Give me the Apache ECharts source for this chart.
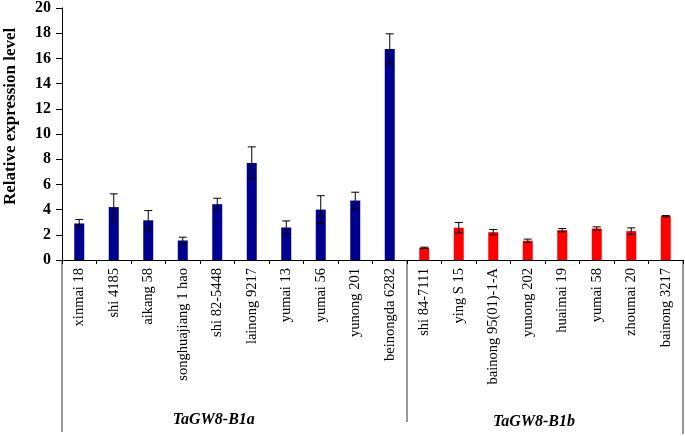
<!DOCTYPE html>
<html>
<head>
<meta charset="utf-8">
<script src="https://cdn.jsdelivr.net/npm/echarts@6/dist/echarts.min.js"></script>
<style>
html,body{margin:0;padding:0;background:#fff;}
#chart{width:685px;height:436px;}
</style>
</head>
<body>
<div id="chart"></div>
<script>
const categories = ["xinmai 18","shi 4185","aikang 58","songhuajiang 1 hao","shi 82-5448","lainong 9217","yumai 13","yumai 56","yunong 201","beinongda 6282",
  "shi 84-7111","ying S 15","bainong 95(01)-1-A","yunong 202","huaimai 19","yumai 58","zhoumai 20","bainong 3217"];
const valuesB1a = [2.9, 4.2, 3.15, 1.55, 4.43, 7.7, 2.58, 4.0, 4.72, 16.75];
const errorsB1a = [0.32, 1.05, 0.77, 0.26, 0.47, 1.28, 0.52, 1.1, 0.66, 1.2];
const valuesB1b = [0.97, 2.56, 2.21, 1.53, 2.37, 2.5, 2.29, 3.48];
const errorsB1b = [0.05, 0.42, 0.21, 0.13, 0.13, 0.13, 0.26, 0.05];
const groupNames = ["TaGW8-B1a", "TaGW8-B1b"];
const yTicks = [0,2,4,6,8,10,12,14,16,18,20];
const yTitle = 'Relative expression level';

const nA = valuesB1a.length;
const barA = categories.map((c, i) => i < nA ? valuesB1a[i] : '-');
const barB = categories.map((c, i) => i >= nA ? valuesB1b[i - nA] : '-');
const allVals = valuesB1a.concat(valuesB1b);
const allErrs = errorsB1a.concat(errorsB1b);
const errData = allVals.map((v, i) => [i, v - allErrs[i], v + allErrs[i]]);

const serif = '"Liberation Serif","Times New Roman",serif';
const chart = echarts.init(document.getElementById('chart'));
chart.setOption({
  animation: false,
  backgroundColor: '#fff',
  grid: {left: 62, right: 2, top: 7, bottom: 176},
  xAxis: {
    type: 'category',
    data: categories,
    boundaryGap: true,
    axisLine: {lineStyle: {color: '#000', width: 1}},
    axisTick: {show: true, alignWithLabel: false, length: 4, lineStyle: {color: '#000'}},
    axisLabel: {rotate: 90, interval: 0, color: '#000', fontFamily: serif, fontSize: 14.5, margin: 8}
  },
  yAxis: {
    type: 'value',
    min: 0, max: 20, interval: 2,
    splitLine: {show: false},
    axisLine: {show: true, lineStyle: {color: '#000', width: 1}},
    axisTick: {show: true, length: 6, lineStyle: {color: '#000'}},
    axisLabel: {color: '#000', fontFamily: serif, fontSize: 16, fontWeight: 'bold', margin: 11,
      formatter: v => yTicks.includes(v) ? String(v) : ''}
  },
  series: [
    {type: 'bar', data: barA, barWidth: 10, barGap: '-100%', itemStyle: {color: '#00008f'}},
    {type: 'bar', data: barB, barWidth: 10, barGap: '-100%', itemStyle: {color: '#ff0000'}},
    {
      type: 'custom',
      data: errData,
      z: 10,
      renderItem: function (params, api) {
        const x = api.value(0);
        const lo = api.coord([x, api.value(1)]);
        const hi = api.coord([x, api.value(2)]);
        const hw = 4;
        const style = {stroke: '#000', lineWidth: 1};
        return {
          type: 'group',
          children: [
            {type: 'line', shape: {x1: hi[0], y1: hi[1], x2: lo[0], y2: lo[1]}, style: style},
            {type: 'line', shape: {x1: hi[0] - hw, y1: hi[1], x2: hi[0] + hw, y2: hi[1]}, style: style},
            {type: 'line', shape: {x1: lo[0] - hw, y1: lo[1], x2: lo[0] + hw, y2: lo[1]}, style: style}
          ]
        };
      }
    }
  ]
});

// group annotations placed from the category axis scale
const p0 = chart.convertToPixel({xAxisIndex: 0}, 0);
const p1 = chart.convertToPixel({xAxisIndex: 0}, 1);
const bw = p1 - p0;
const axisY = chart.convertToPixel({yAxisIndex: 0}, 0);
const axisTop = chart.convertToPixel({yAxisIndex: 0}, 20);
const xLeft = p0 - bw / 2;
const xMid = chart.convertToPixel({xAxisIndex: 0}, nA) - bw / 2;
const xRight = chart.convertToPixel({xAxisIndex: 0}, categories.length - 1) + bw / 2;
const lineStyle = {stroke: '#555', lineWidth: 1.2};
chart.setOption({
  graphic: [
    {type: 'line', shape: {x1: xLeft, y1: axisY, x2: xLeft, y2: axisY + 172}, style: lineStyle},
    {type: 'line', shape: {x1: xMid, y1: axisY, x2: xMid, y2: axisY + 162}, style: lineStyle},
    {type: 'line', shape: {x1: xRight, y1: axisY, x2: xRight, y2: axisY + 174}, style: lineStyle},
    {type: 'text', x: xLeft + (xMid - xLeft) * 0.44, y: axisY + 160,
      style: {text: groupNames[0], fill: '#000', font: 'italic bold 16px ' + serif, textAlign: 'center', textVerticalAlign: 'middle'}},
    {type: 'text', x: xMid + (xRight - xMid) * 0.46, y: axisY + 162,
      style: {text: groupNames[1], fill: '#000', font: 'italic bold 16px ' + serif, textAlign: 'center', textVerticalAlign: 'middle'}},
    {type: 'text', x: 11, y: axisTop + (axisY - axisTop) * 0.43, rotation: Math.PI / 2,
      style: {text: yTitle, fill: '#000', font: 'bold 17px ' + serif, textAlign: 'center', textVerticalAlign: 'middle'}}
  ]
});
</script>
</body>
</html>
